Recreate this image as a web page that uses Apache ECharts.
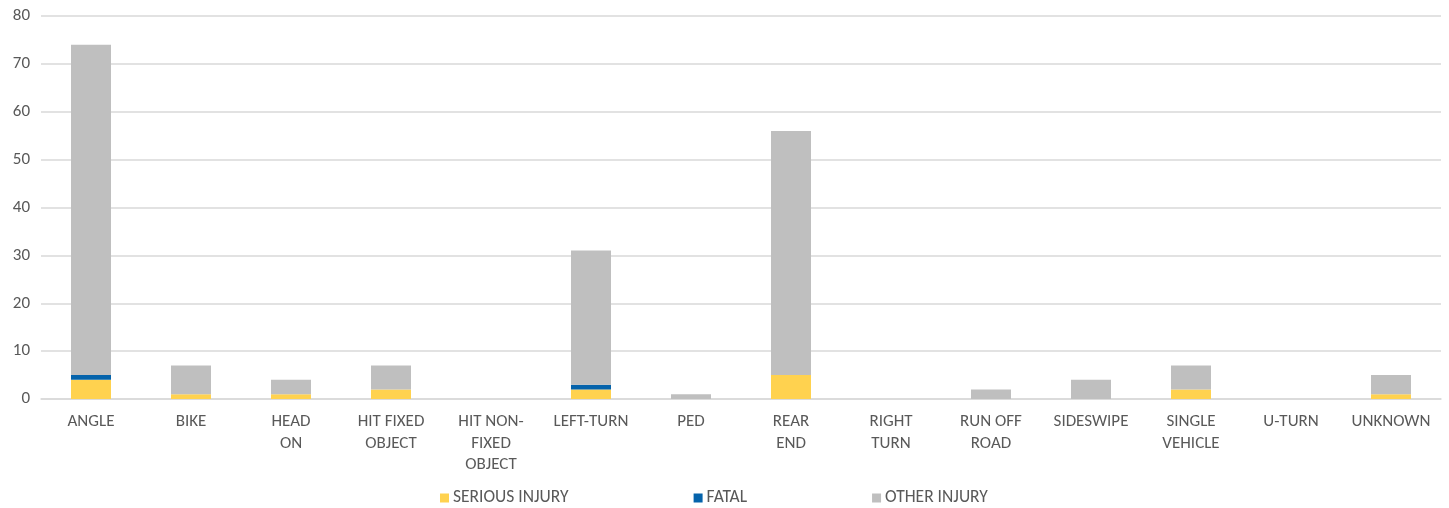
<!DOCTYPE html>
<html>
<head>
<meta charset="utf-8">
<script src="https://cdn.jsdelivr.net/npm/echarts@6/dist/echarts.min.js"></script>
<style>
html,body{margin:0;padding:0;background:#fff;}
#chart{width:1449px;height:508px;}
</style>
</head>
<body>
<div id="chart"></div>
<script>
const categories = ["ANGLE","BIKE","HEAD\nON","HIT FIXED\nOBJECT","HIT NON-\nFIXED\nOBJECT","LEFT-TURN","PED","REAR\nEND","RIGHT\nTURN","RUN OFF\nROAD","SIDESWIPE","SINGLE\nVEHICLE","U-TURN","UNKNOWN"];
const seriousInjury = [4,1,1,2,0,2,0,5,0,0,0,2,0,1];
const fatal = [1,0,0,0,0,1,0,0,0,0,0,0,0,0];
const otherInjury = [69,6,3,5,0,28,1,51,0,2,4,5,0,4];
const yTicks = [0,10,20,30,40,50,60,70,80];

const font = 'Carlito, "Open Sans", "Noto Sans", sans-serif';
const chart = echarts.init(document.getElementById('chart'));
chart.setOption({
  animation:false,
  grid:{left:41,right:8,top:16,bottom:109,containLabel:false},
  legend:{
    top:488,left:440,padding:0,itemWidth:9,itemHeight:9,itemGap:125,icon:'rect',
    textStyle:{color:'#595959',fontSize:17.5,fontFamily:font,lineHeight:20,padding:[0,0,0,-1]},
    data:['SERIOUS INJURY','FATAL','OTHER INJURY']
  },
  xAxis:{
    type:'category',data:categories,
    axisLine:{lineStyle:{color:'#d9d9d9',width:1.5}},
    axisTick:{show:false},
    axisLabel:{color:'#595959',fontSize:17,fontFamily:font,lineHeight:21.5,margin:12,interval:0}
  },
  yAxis:{
    type:'value',min:yTicks[0],max:yTicks[yTicks.length-1],interval:10,
    axisLine:{show:false},axisTick:{show:false},
    splitLine:{lineStyle:{color:'#d9d9d9',width:1.5}},
    axisLabel:{color:'#595959',fontSize:17,fontFamily:font,margin:11}
  },
  series:[
    {name:'SERIOUS INJURY',type:'bar',stack:'t',data:seriousInjury,barWidth:'40%',itemStyle:{color:'#ffd24f'}},
    {name:'FATAL',type:'bar',stack:'t',data:fatal,barWidth:'40%',itemStyle:{color:'#0563ab'}},
    {name:'OTHER INJURY',type:'bar',stack:'t',data:otherInjury,barWidth:'40%',itemStyle:{color:'#bfbfbf'}}
  ]
});
</script>
</body>
</html>
